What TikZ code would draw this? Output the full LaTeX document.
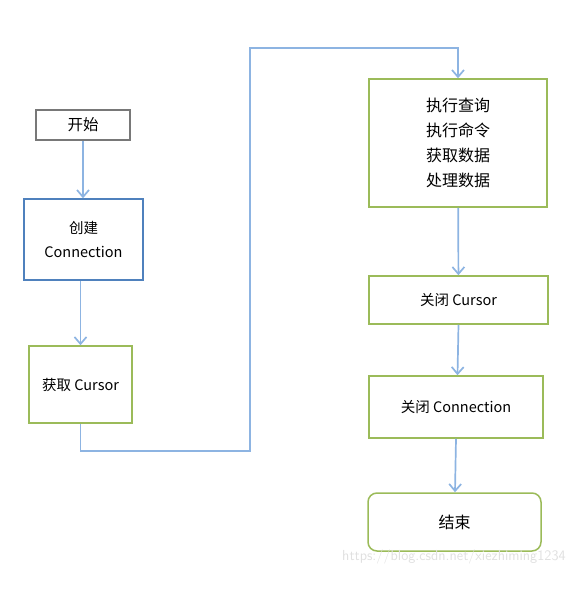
\documentclass[tikz,border=0pt]{standalone}
\usepackage{fontspec}
\setmainfont{Noto Sans CJK SC}
\usetikzlibrary{arrows.meta}
\definecolor{boxgreen}{RGB}{155,187,89}
\definecolor{boxblue}{RGB}{79,129,189}
\definecolor{boxgray}{RGB}{120,120,120}
\definecolor{arrowblue}{RGB}{141,180,226}
\tikzset{
  box/.style={draw=boxgreen, line width=1.5pt, minimum width=#1, inner sep=0pt, align=center},
  flow/.style={draw=arrowblue, line width=1.7pt, -{Straight Barb[length=7pt,width=12pt]}}
}
\begin{document}
\begin{tikzpicture}[x=1pt,y=-1pt,font=\fontsize{14.5}{25}\selectfont]
        \useasboundingbox (0,0) rectangle (576,590);
        \node[box=94pt, draw=boxgray, minimum height=30pt, font=\fontsize{15.5}{18}\selectfont] (A) at (83,125) {开始};
        \node[box=119pt, draw=boxblue, minimum height=81pt, font=\fontsize{14.5}{24}\selectfont] (B) at (83.5,239.5) {创建\\Connection};
        \node[box=103pt, minimum height=77pt] (C) at (80.5,384.5) {获取 Cursor};
        \node[box=178pt, minimum height=128pt, font=\fontsize{16}{25}\selectfont] (D) at (458,143) {执行查询\\执行命令\\获取数据\\处理数据};
        \node[box=179pt, minimum height=48pt] (E) at (458.5,300) {关闭 Cursor};
        \node[box=174pt, minimum height=62pt] (F) at (456,407) {关闭 Connection};
        \node[box=173pt, minimum height=58pt, rounded corners=9pt, font=\fontsize{16}{18}\selectfont] (G) at (454.5,522) {结束};
        \coordinate (c1) at (250,451);
        \coordinate (c2) at (250,48);
        \draw[flow] (A) -- (B.north -| A);
        \draw[flow] (B.south -| C) -- (C);
        \draw[flow] (C.south) |- (c1) -- (c2) -| (D.north);
        \draw[flow] (D) -- (E);
        \draw[flow] (E.south) -- ([xshift=-1pt]E.south |- F.north);
        \draw[flow] (F.south) -- ([xshift=-1pt]F.south |- G.north);
        \node[text=black!12, font=\fontsize{14.5}{15}\selectfont\sffamily] (W) at (454,557) {https://blog.csdn.net/xiezhiming1234};
    \end{tikzpicture}
\end{document}
